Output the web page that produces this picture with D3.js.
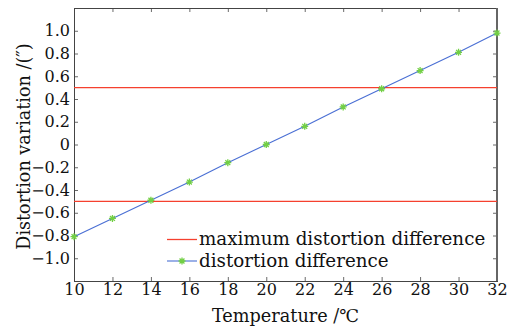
<!DOCTYPE html>
<html>
<head>
<meta charset="utf-8">
<script src="https://cdn.jsdelivr.net/npm/d3@7"></script>
<style>
  body { margin: 0; background: #fff; }
  text { font-family: "DejaVu Serif", "Liberation Serif", serif; fill: #111; }
</style>
</head>
<body>
<div id="chart"></div>
<script>
const temps = [10, 12, 14, 16, 18, 20, 22, 24, 26, 28, 30, 32];
const diffs = [-0.81, -0.65, -0.49, -0.33, -0.16, 0.0, 0.16, 0.33, 0.49, 0.65, 0.81, 0.98];
const limits = [0.5, -0.5];
const xTicks = [10, 12, 14, 16, 18, 20, 22, 24, 26, 28, 30, 32];
const yTicks = [-1.0, -0.8, -0.6, -0.4, -0.2, 0, 0.2, 0.4, 0.6, 0.8, 1.0];
const legendLabels = ["maximum distortion difference", "distortion difference"];

const width = 509, height = 328;
const margin = { top: 8, right: 12, bottom: 47, left: 74 };
const iw = width - margin.left - margin.right;
const ih = height - margin.top - margin.bottom;

const svg = d3.select('#chart').append('svg')
    .attr('width', width)
    .attr('height', height);

const g = svg.append('g')
    .attr('transform', `translate(${margin.left},${margin.top})`);

const x = d3.scaleLinear().domain([10, 32]).range([0, iw]);
const y = d3.scaleLinear().domain([-1.2, 1.2]).range([ih, 0]);

const fmt = d => d === 0 ? '0' : d3.format('.1f')(d).replace('-', '\u2212');

// axes, ticks pointing inward
const axisStyle = sel => {
    sel.select('.domain').remove();
    sel.selectAll('line').attr('stroke', '#444').attr('stroke-width', 0.8);
    sel.selectAll('text').attr('font-size', 16).attr('fill', '#111');
};

g.append('g')
    .attr('transform', `translate(0,${ih})`)
    .call(d3.axisBottom(x).tickValues(xTicks).tickSize(-4).tickPadding(3).tickFormat(d3.format('d')))
    .call(axisStyle);

g.append('g')
    .call(d3.axisTop(x).tickValues(xTicks).tickSize(-4).tickFormat(''))
    .call(axisStyle);

g.append('g')
    .call(d3.axisLeft(y).tickValues(yTicks).tickSize(-4).tickPadding(4).tickFormat(fmt))
    .call(axisStyle);

g.append('g')
    .attr('transform', `translate(${iw},0)`)
    .call(d3.axisRight(y).tickValues(yTicks).tickSize(-4).tickFormat(''))
    .call(axisStyle);

// frame
g.append('rect')
    .attr('width', iw).attr('height', ih)
    .attr('fill', 'none').attr('stroke', '#444').attr('stroke-width', 1)
    .attr('shape-rendering', 'crispEdges');
g.append('line')
    .attr('x1', iw).attr('x2', iw).attr('y1', 0).attr('y2', ih)
    .attr('stroke', '#666').attr('stroke-width', 2)
    .attr('shape-rendering', 'crispEdges');

// limit lines
g.selectAll('.limit')
    .data(limits)
    .enter().append('line')
    .attr('class', 'limit')
    .attr('x1', 0).attr('x2', iw)
    .attr('y1', d => y(d)).attr('y2', d => y(d))
    .attr('stroke', '#f5402e').attr('stroke-width', 1.3);

// data line
const line = d3.line().x((d, i) => x(temps[i])).y(d => y(d));
g.append('path')
    .datum(diffs)
    .attr('d', line)
    .attr('fill', 'none')
    .attr('stroke', '#4a6fd4')
    .attr('stroke-width', 1.1);

function asterisk(sel, r) {
    const a = r * 0.7;
    sel.append('path')
        .attr('d', `M${-r},0L${r},0M0,${-r}L0,${r}M${-a},${-a}L${a},${a}M${-a},${a}L${a},${-a}`)
        .attr('stroke', '#72cf44')
        .attr('stroke-width', 1.3)
        .attr('fill', 'none');
}

g.selectAll('.pt')
    .data(diffs)
    .enter().append('g')
    .attr('class', 'pt')
    .attr('transform', (d, i) => `translate(${x(temps[i])},${y(d)})`)
    .each(function () { asterisk(d3.select(this), 3.5); });

// legend
const leg = svg.append('g').attr('transform', 'translate(167,239)');
leg.append('line').attr('x1', 0).attr('x2', 30).attr('y1', 0.5).attr('y2', 0.5)
    .attr('stroke', '#f5402e').attr('stroke-width', 1.3);
leg.append('line').attr('x1', 0).attr('x2', 30).attr('y1', 22).attr('y2', 22)
    .attr('stroke', '#4a6fd4').attr('stroke-width', 1.1);
leg.append('g').attr('transform', 'translate(15,22)').call(s => asterisk(s, 3.5));
leg.selectAll('.lt')
    .data(legendLabels)
    .enter().append('text')
    .attr('class', 'lt')
    .attr('x', 32)
    .attr('y', (d, i) => i * 22 + 6)
    .attr('font-size', 18.3)
    .text(d => d);

// axis titles
svg.append('text')
    .attr('x', margin.left + iw / 2)
    .attr('y', 322)
    .attr('text-anchor', 'middle')
    .attr('font-size', 17.7)
    .text('Temperature /\u2103');

svg.append('text')
    .attr('transform', `translate(30,${margin.top + ih / 2 + 2}) rotate(-90)`)
    .attr('text-anchor', 'middle')
    .attr('font-size', 17.6)
    .text('Distortion variation /(\u2033)');
</script>
</body>
</html>
